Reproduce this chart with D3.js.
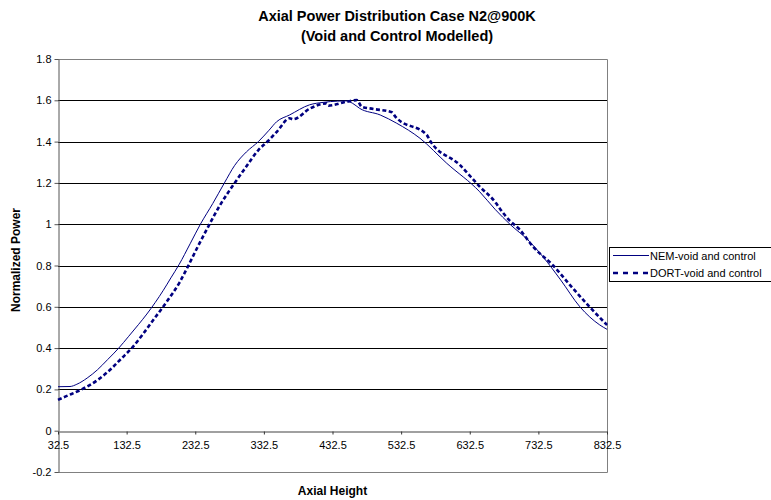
<!DOCTYPE html>
<html>
<head>
<meta charset="utf-8">
<script src="https://cdn.jsdelivr.net/npm/d3@7"></script>
<style>
  html, body { margin: 0; padding: 0; background: #fff; }
  svg { display: block; font-family: Arial, "Liberation Sans", sans-serif; }
</style>
</head>
<body>
<svg id="chart" width="771" height="500"></svg>
<script>
// Axial heights and normalized power for the two calculations
const nemHeight = [32.5, 50, 60, 75, 90, 105, 121, 135, 150, 162, 174, 186, 197, 209, 225, 240, 258, 275, 290, 307, 324.5, 340, 351, 370, 399, 419, 440, 452, 462, 472, 502, 526, 560, 599, 647, 670, 691, 720, 739, 765, 793, 822, 832.5];
const nemPower  = [0.213, 0.214, 0.225, 0.255, 0.295, 0.345, 0.400, 0.455, 0.515, 0.565, 0.620, 0.680, 0.740, 0.805, 0.905, 1.0, 1.1, 1.2, 1.285, 1.35, 1.40, 1.455, 1.496, 1.529, 1.578, 1.590, 1.596, 1.597, 1.585, 1.561, 1.529, 1.489, 1.416, 1.295, 1.157, 1.07, 1.0, 0.915, 0.843, 0.73, 0.600, 0.512, 0.491];

const dortHeight = [32.5, 43, 67, 90, 110, 125, 140, 155, 170, 191, 210, 221, 236, 251.7, 270, 290, 305, 324.5, 339, 352, 370, 375, 400, 424, 426.5, 453, 468, 475, 492, 519, 524, 528, 570, 574, 618, 647, 671, 676, 690, 705, 725, 754, 780, 807, 832.5];
const dortPower  = [0.149, 0.165, 0.200, 0.245, 0.300, 0.350, 0.400, 0.462, 0.530, 0.625, 0.720, 0.790, 0.890, 0.990, 1.1, 1.2, 1.27, 1.359, 1.404, 1.45, 1.513, 1.508, 1.561, 1.585, 1.574, 1.593, 1.601, 1.569, 1.558, 1.542, 1.521, 1.508, 1.432, 1.408, 1.287, 1.182, 1.101, 1.077, 1.02, 0.975, 0.89, 0.80, 0.70, 0.600, 0.512];

const xTicks = [32.5, 132.5, 232.5, 332.5, 432.5, 532.5, 632.5, 732.5, 832.5];
const yTicks = [-0.2, 0, 0.2, 0.4, 0.6, 0.8, 1, 1.2, 1.4, 1.6, 1.8];

const seriesNames = ["NEM-void and control", "DORT-void and control"];
const titleLines = ["Axial Power Distribution Case N2@900K", "(Void and Control Modelled)"];

const svg = d3.select("#chart");
const plot = { left: 58, right: 607, top: 59, bottom: 472 };
const navy = "#000080";

const x = d3.scaleLinear().domain([32.5, 832.5]).range([plot.left, plot.right]);
const y = d3.scaleLinear().domain([-0.2, 1.8]).range([plot.bottom, plot.top]);

// Horizontal gridlines
svg.append("g")
  .selectAll("line")
  .data(yTicks.filter(v => v > 0 && v < 1.8))
  .join("line")
  .attr("x1", plot.left).attr("x2", plot.right)
  .attr("y1", d => Math.round(y(d)) + 0.5).attr("y2", d => Math.round(y(d)) + 0.5)
  .attr("stroke", "#000").attr("stroke-width", 1);

// Plot frame (top, right, bottom)
svg.append("path")
  .attr("d", `M${plot.left},${Math.round(plot.top) + 0.5}H${plot.right + 0.5}V${plot.bottom + 0.5}H${plot.left}`)
  .attr("fill", "none").attr("stroke", "#808080").attr("stroke-width", 1);

// Tick labels use a plain hyphen for negatives
const fmtY = d => String(+d.toFixed(1));

// Y axis on the left edge
const yAxis = svg.append("g")
  .attr("transform", `translate(${plot.left + 0.5},0)`)
  .call(d3.axisLeft(y).tickValues(yTicks).tickSize(4).tickSizeOuter(0).tickFormat(fmtY));
yAxis.select(".domain").attr("stroke", "#555");
yAxis.selectAll(".tick line").attr("stroke", "#555");
yAxis.selectAll(".tick text")
  .attr("font-size", 11).attr("fill", "#000")
  .attr("font-family", "Arial, 'Liberation Sans', sans-serif");

// X axis along the zero line
const xAxis = svg.append("g")
  .attr("transform", `translate(0,${Math.round(y(0)) + 0.5})`)
  .call(d3.axisBottom(x).tickValues(xTicks).tickSize(3).tickSizeOuter(0)
    .tickFormat(d => String(d)));
xAxis.select(".domain").attr("stroke", "#808080").attr("stroke-width", 1.5);
xAxis.selectAll(".tick line").attr("stroke", "#333");
xAxis.selectAll(".tick text")
  .attr("font-size", 11).attr("fill", "#000").attr("dy", "1.05em")
  .attr("font-family", "Arial, 'Liberation Sans', sans-serif");

// Curves
const line = d3.line().curve(d3.curveMonotoneX).x(d => x(d[0])).y(d => y(d[1]));
const nem = nemHeight.map((h, i) => [h, nemPower[i]]);
const dort = dortHeight.map((h, i) => [h, dortPower[i]]);

svg.append("path").datum(dort)
  .attr("d", line).attr("fill", "none")
  .attr("stroke", navy).attr("stroke-width", 2.6)
  .attr("stroke-dasharray", "4,2.5");

svg.append("path").datum(nem)
  .attr("d", line).attr("fill", "none")
  .attr("stroke", navy).attr("stroke-width", 1);

// Titles
const title = svg.append("g").attr("font-weight", "bold").attr("font-size", 14.5).attr("text-anchor", "middle");
titleLines.forEach((t, i) => {
  title.append("text").attr("x", 397).attr("y", 21 + i * 20).text(t);
});

svg.append("text")
  .attr("x", (plot.left + plot.right) / 2).attr("y", 495)
  .attr("text-anchor", "middle").attr("font-weight", "bold").attr("font-size", 12)
  .text("Axial Height");

svg.append("text")
  .attr("transform", `translate(20,260) rotate(-90)`)
  .attr("text-anchor", "middle").attr("font-weight", "bold").attr("font-size", 12)
  .text("Normalized Power");

// Legend
const legend = svg.append("g").attr("transform", "translate(609,247)");
legend.append("rect")
  .attr("x", 0.5).attr("y", 0.5).attr("width", 175).attr("height", 34)
  .attr("fill", "#fff").attr("stroke", "#000").attr("stroke-width", 1);
const styles = [
  { w: 1, dash: null },
  { w: 2.6, dash: "5,5" }
];
seriesNames.forEach((name, i) => {
  const yy = 8.5 + i * 17.5;
  legend.append("line")
    .attr("x1", 4).attr("x2", 40).attr("y1", yy).attr("y2", yy)
    .attr("stroke", navy).attr("stroke-width", styles[i].w)
    .attr("stroke-dasharray", styles[i].dash);
  legend.append("text")
    .attr("x", 41).attr("y", yy + 4).attr("font-size", 11).text(name);
});
</script>
</body>
</html>
